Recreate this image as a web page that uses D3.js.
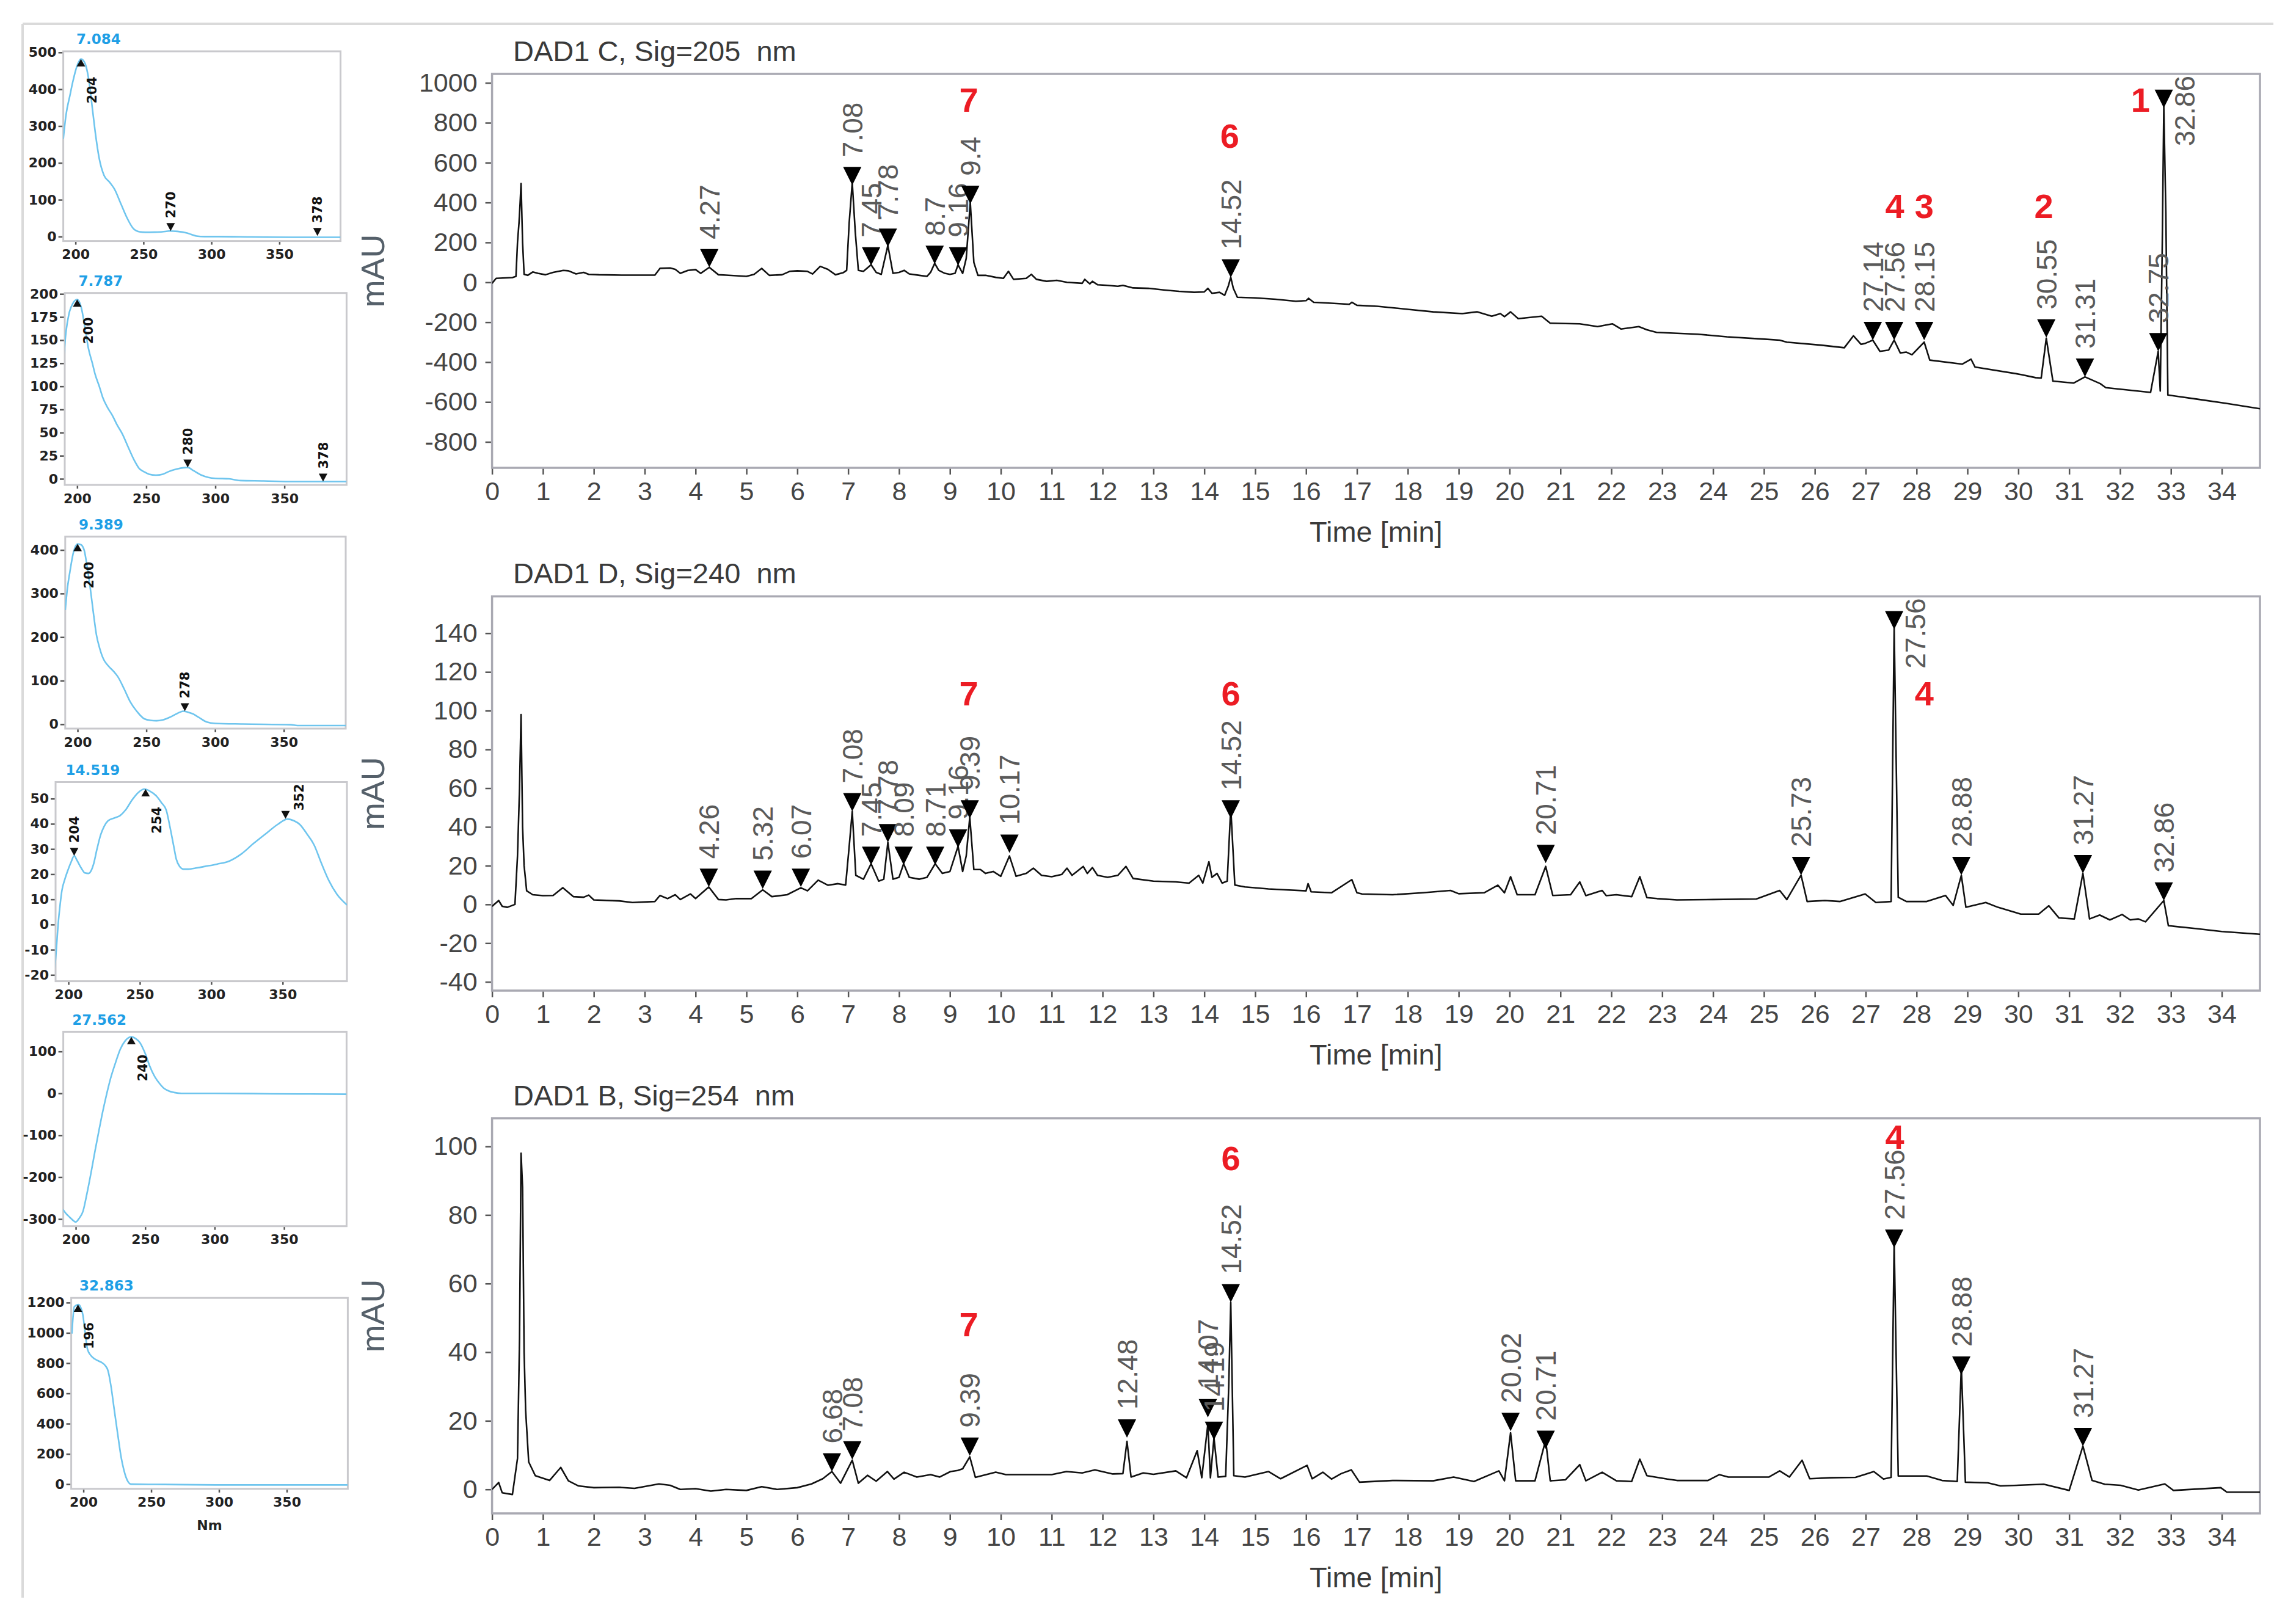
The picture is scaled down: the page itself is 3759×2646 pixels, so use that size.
<!DOCTYPE html>
<html>
<head>
<meta charset="utf-8">
<script src="https://cdn.jsdelivr.net/npm/d3@7"></script>
<style>
body { margin: 0; background: #fff; }
svg { display: block; }
</style>
</head>
<body>
<svg id="fig" width="3759" height="2646"></svg>
<script>
// ---- chromatogram traces [time min, mAU] ----
const trace205 = [[0,-5],[0.08,20],[0.4,24],[0.47,30],[0.5,200],[0.53,300],[0.55,390],[0.57,495],[0.6,200],[0.63,40],[0.7,35],[0.8,52],[0.9,45],[1.05,38],[1.2,50],[1.4,60],[1.5,58],[1.65,42],[1.8,50],[1.9,40],[2.1,38],[2.6,36],[3.2,36],[3.3,70],[3.5,72],[3.6,65],[3.7,45],[3.85,60],[4.0,64],[4.1,45],[4.27,75],[4.45,38],[4.6,36],[5.0,30],[5.15,40],[5.3,70],[5.45,35],[5.7,38],[5.85,55],[6.0,58],[6.2,55],[6.3,42],[6.45,80],[6.6,65],[6.75,38],[6.9,48],[6.97,60],[7.02,300],[7.08,500],[7.14,250],[7.2,60],[7.3,55],[7.45,88],[7.55,50],[7.65,40],[7.78,185],[7.88,45],[8.0,50],[8.1,60],[8.2,42],[8.4,35],[8.55,30],[8.62,50],[8.7,95],[8.78,60],[8.9,45],[9.0,40],[9.1,45],[9.16,88],[9.25,45],[9.32,120],[9.4,400],[9.47,100],[9.55,35],[9.7,35],[9.9,25],[10.05,20],[10.15,55],[10.25,15],[10.5,20],[10.6,40],[10.7,15],[10.9,5],[11.1,10],[11.3,0],[11.6,-5],[11.65,15],[11.75,-8],[11.8,5],[11.9,-12],[12.1,-15],[12.3,-20],[12.4,-15],[12.6,-28],[12.9,-30],[13.2,-38],[13.5,-45],[13.8,-50],[14.0,-48],[14.07,-30],[14.15,-55],[14.3,-50],[14.4,-65],[14.47,-20],[14.52,25],[14.57,-30],[14.65,-75],[15.0,-78],[15.4,-85],[15.8,-95],[16.0,-92],[16.05,-80],[16.15,-100],[16.5,-105],[16.85,-110],[16.9,-100],[17.0,-115],[17.4,-120],[18.03,-136],[18.5,-148],[19.07,-157],[19.36,-148],[19.65,-170],[19.82,-157],[19.9,-172],[20.02,-148],[20.17,-182],[20.63,-170],[20.8,-205],[21.38,-208],[21.73,-222],[22.02,-208],[22.19,-234],[22.54,-222],[22.7,-238],[22.89,-251],[23.7,-260],[24.27,-273],[25.02,-285],[25.31,-290],[25.45,-300],[26.12,-315],[26.58,-328],[26.76,-268],[26.91,-311],[27.0,-305],[27.14,-290],[27.28,-346],[27.45,-340],[27.56,-290],[27.68,-354],[27.8,-350],[27.91,-363],[28.15,-300],[28.26,-390],[28.9,-410],[29.07,-385],[29.15,-425],[30.05,-462],[30.34,-478],[30.45,-480],[30.55,-280],[30.68,-495],[31.09,-505],[31.31,-474],[31.61,-508],[31.72,-528],[32.6,-552],[32.75,-346],[32.79,-545],[32.83,200],[32.86,880],[32.9,350],[32.94,-565],[33.52,-586],[34.09,-607],[34.75,-634]];

const trace240 = [[0,-1],[0.13,2],[0.2,-1],[0.3,-1.5],[0.45,0],[0.5,25],[0.54,60],[0.57,98],[0.6,40],[0.63,20],[0.68,7],[0.8,5],[1.0,4.5],[1.2,4.6],[1.39,8.6],[1.6,4],[1.8,3.7],[1.9,4.8],[2.0,2.3],[2.5,1.8],[2.76,1],[3.2,1.5],[3.3,4.6],[3.45,3],[3.6,5],[3.7,2.5],[3.9,5.4],[4.0,3],[4.26,9],[4.45,2.5],[4.6,2.3],[4.8,3],[5.1,3],[5.32,7.5],[5.5,4],[5.8,5],[6.07,8.6],[6.2,7],[6.41,12.5],[6.6,9.9],[6.8,10.7],[6.95,10],[7.02,30],[7.08,48],[7.15,15],[7.3,13],[7.45,21],[7.6,12],[7.7,13],[7.78,32],[7.88,13],[8.0,14],[8.09,21],[8.2,14],[8.4,13],[8.55,14],[8.71,21],[8.85,16],[9.0,17],[9.16,30],[9.25,17],[9.32,25],[9.39,45],[9.47,18],[9.6,18],[9.7,16],[9.85,17],[10.0,14.5],[10.17,25],[10.3,14.5],[10.5,16],[10.64,18.7],[10.8,15],[11.0,14.3],[11.2,15.5],[11.3,18.7],[11.4,15],[11.62,19.6],[11.7,16],[11.8,19],[11.9,15],[12.1,14],[12.3,15],[12.46,19.6],[12.6,13.4],[13.0,12],[13.44,11.6],[13.7,11],[13.89,15],[13.97,11],[14.09,22],[14.15,14],[14.25,16],[14.35,11],[14.45,12],[14.52,50],[14.6,10],[14.8,9],[15.26,8],[15.6,7.5],[16.0,7],[16.04,10.7],[16.1,6.5],[16.5,6],[16.9,12.8],[17.0,6],[17.1,5.4],[17.7,5],[18.3,6],[18.84,7.2],[19.0,5.5],[19.5,6],[19.77,9.9],[19.9,6],[20.02,14.3],[20.15,5],[20.5,5],[20.71,19.6],[20.85,4.6],[21.2,5],[21.38,11.6],[21.5,4.5],[21.82,7.2],[21.9,4.5],[22.1,5],[22.4,4],[22.56,14.3],[22.7,3.5],[22.9,3],[23.29,2.3],[24.0,2.5],[24.85,2.8],[25.31,7.2],[25.45,2.5],[25.73,15.1],[25.85,1.5],[26.2,2],[26.5,1.5],[26.99,5.4],[27.2,1],[27.5,1.5],[27.56,143],[27.64,3.7],[27.8,1.5],[28.2,1.5],[28.57,4.6],[28.72,-0.5],[28.88,15],[28.97,-1.5],[29.36,1],[29.6,-1.5],[30.05,-5],[30.4,-5],[30.6,-0.7],[30.8,-7],[31.1,-7.5],[31.27,16],[31.4,-7.5],[31.6,-5.5],[31.8,-8],[32.04,-5.2],[32.2,-8],[32.36,-7.5],[32.5,-9],[32.86,2],[32.95,-11],[33.5,-12.5],[34.0,-14],[34.75,-15.4]];

const trace254 = [[0,0],[0.13,2],[0.2,-1],[0.4,-1.5],[0.5,9],[0.54,44],[0.57,98],[0.6,88],[0.63,40],[0.66,23],[0.72,8],[0.85,4],[1.13,2.6],[1.35,6.4],[1.5,2.5],[1.7,1],[2.0,0.5],[2.5,0.6],[2.8,0.3],[3.28,1.6],[3.5,1.2],[3.7,0],[4.0,0.2],[4.3,-0.5],[4.6,0],[5.0,-0.3],[5.3,0.8],[5.6,0],[6.0,0.5],[6.28,1.6],[6.5,3.1],[6.68,5.2],[6.85,1.8],[7.08,8.5],[7.2,1.8],[7.38,4.1],[7.55,2.4],[7.77,5.2],[7.9,3],[8.1,5],[8.35,3.6],[8.62,4.3],[8.8,3.6],[9.01,5.2],[9.15,5.5],[9.25,6],[9.39,9.5],[9.5,3.5],[9.9,5],[10.1,4.3],[10.5,4.3],[11.0,4.3],[11.29,5.2],[11.6,4.8],[11.85,5.7],[12.2,4.5],[12.4,4.6],[12.48,14],[12.56,3.6],[12.8,4.8],[13.0,4.4],[13.44,5.4],[13.65,3.4],[13.86,11.3],[13.95,3.4],[14.07,19],[14.12,3.4],[14.19,15],[14.27,3.6],[14.42,3.8],[14.48,30],[14.52,54.5],[14.58,4],[14.8,3.6],[15.26,5.2],[15.5,3.1],[16.02,7],[16.12,3.1],[16.33,5],[16.5,3],[16.69,4.6],[16.89,5.7],[17.05,2.1],[17.7,2.6],[18.5,2.5],[18.9,3.6],[19.3,2.3],[19.79,5.4],[19.9,2.5],[20.02,16.5],[20.12,2.5],[20.5,2.5],[20.71,14.4],[20.8,2.5],[21.1,2.8],[21.38,7.2],[21.5,2.5],[21.82,5],[22.1,2.5],[22.4,2.3],[22.56,8.8],[22.7,4],[22.9,3.5],[23.1,3],[23.29,2.6],[23.9,2.6],[24.12,4.3],[24.3,3.6],[25.1,3.6],[25.31,5.4],[25.5,3.6],[25.75,8.5],[25.9,3.1],[26.3,3.4],[26.8,3.5],[27.16,5.2],[27.35,3],[27.5,3.5],[27.56,72],[27.64,3.9],[28.2,3.9],[28.5,2.6],[28.8,2.3],[28.88,36],[28.96,2.1],[29.4,1.9],[29.65,1],[30.5,1.5],[31.0,-0.3],[31.27,12.6],[31.45,2.6],[31.7,1.5],[32.01,1.2],[32.36,-0.2],[32.88,1.6],[33.05,-0.3],[33.98,0.5],[34.1,-0.8],[34.75,-0.8]];

// ---- labelled peaks [retention time, marker tip mAU] ----
const peaks205 = [[4.27,75],[7.08,487],[7.45,84],[7.78,178],[8.7,92],[9.16,84],[9.4,393],[14.52,24],[27.14,-290],[27.56,-290],[28.15,-290],[30.55,-277],[31.31,-474],[32.75,-346],[32.86,874]];
const peaks240 = [[4.26,9],[5.32,8],[6.07,9],[7.08,48],[7.45,20.4],[7.78,32],[8.09,20.4],[8.71,20.4],[9.16,29.3],[9.39,44.3],[10.17,26.6],[14.52,44.3],[20.71,21.3],[25.73,15.1],[27.56,142],[28.88,15.1],[31.27,16],[32.86,1.9]];
const peaks254 = [[6.68,5.2],[7.08,8.7],[9.39,9.8],[12.48,15.1],[14.07,21],[14.19,14.4],[14.52,54.5],[20.02,17],[20.71,11.8],[27.56,70.4],[28.88,33.4],[31.27,12.6]];

// ---- red compound numbers [label, time, mAU] ----
const compounds205 = [['7',9.37,917],['6',14.5,736],['4',27.57,385],['3',28.15,385],['2',30.5,385],['1',32.4,917]];
const compounds240 = [['7',9.37,109],['6',14.52,109],['4',28.15,109]];
const compounds254 = [['7',9.37,48.3],['6',14.52,96.6],['4',27.57,102.8]];

// ---- axis ticks ----
const timeTicks = d3.range(0, 35);
const yTicks205 = [-800,-600,-400,-200,0,200,400,600,800,1000];
const yTicks240 = [-40,-20,0,20,40,60,80,100,120,140];
const yTicks254 = [0,20,40,60,80,100];

// ---- UV spectra [nm, mAU] ----
const spec7084 = [[191,265],[193,330],[196,385],[198,420],[201,462],[204,482],[207,470],[210,420],[212.5,345],[215,270],[217.5,211],[221,166],[225,148],[228.5,130],[233.5,88],[238,50],[242.5,22],[247,13],[251.5,11.6],[258,12],[264,13],[269,15],[275,14],[281.5,10],[285,6],[289,1.5],[295,0],[305,0],[330,-1],[360,-2],[395,-2]];
const spec7787 = [[190,127],[192,160],[194,178],[197,190],[200,194],[203,185],[206,160],[208,142],[211,125],[213,113],[216,100],[218.5,88],[222,77],[225.5,68.5],[229,58],[232.6,48.8],[237,34],[241.3,20],[245,11],[248.3,7.7],[252,5],[257,4],[262,5],[266,7.7],[272,10.5],[277,12],[280,12.3],[284,9],[290,4],[295,1.5],[300,0.5],[310,0],[318,-1.9],[335,-2.3],[356,-3],[395,-3]];
const spec9389 = [[191,262],[192.5,310],[194.4,350],[197,395],[200,414],[202.5,412],[204.9,398],[207,360],[209.3,310],[211.5,255],[213.7,205],[216,175],[218.9,149],[222,135],[226,122],[229.5,108],[234,80],[238.2,52],[243,30],[248.8,12],[253,9],[257.5,8],[262,10],[267,16],[272,24],[276.8,30],[280,28],[283.8,24],[288,16],[294,5],[300,2],[320,0.5],[355,-1],[360,-3],[395,-3]];
const spec14519 = [[190.3,-18.7],[191.5,-10],[192.9,0.8],[194,7],[195.4,13.4],[197.5,18],[199.7,21.7],[202,25],[204,27.3],[206,25.5],[209,22.4],[211.5,20.5],[214.1,20.3],[216,21.5],[217.5,23.8],[220,30],[222.6,35.7],[225,39],[227.7,41.2],[232,42.3],[236.2,43.3],[240,45.5],[244.7,49.6],[249,52.5],[253.2,53.8],[257,53],[261.7,51],[265,48.5],[268.5,45.4],[271,39],[273.6,31.5],[275.5,26],[277.8,23.1],[280.5,22],[283.8,22],[290,22.5],[295.7,23.1],[304,24],[312.6,25.2],[321,28],[329.6,32.2],[338,36],[346.6,39.8],[353.4,41.9],[358,41.2],[361.9,39.8],[367,36],[372.1,31.5],[377,24.5],[382.3,17.5],[388,12],[395,7.8]];
const spec27562 = [[190.7,-277],[193,-287],[195.6,-295.5],[198,-303],[200,-307],[202.5,-298],[205.2,-281.5],[208,-240],[211.3,-184],[214,-135],[216.5,-91.7],[219,-50],[221.8,-8],[225,35],[228.8,75],[232,105],[235.7,126],[238,133],[240.1,135],[243,131],[246.2,121],[250,95],[253.2,65.7],[256.5,42],[260.2,24],[263.5,12],[267.1,5.5],[271,2],[276,0],[300,0],[340,-1],[395,-2]];
const spec32863 = [[191.5,995],[192.3,1100],[193.3,1174],[196.3,1187],[199.5,1123],[201,1020],[203,892],[205.5,850],[208.3,828],[211,815],[213.7,803],[216,785],[218.1,751],[220.3,650],[222.5,508],[225.3,330],[227.9,174],[229.8,95],[231.4,46],[233,15],[235,0],[260,-2],[300,-5],[395,-5]];

// spectral maxima (up markers) and minima/shoulders (down markers) [nm, mAU]
const up7084 = [[204,482]], down7084 = [[270,15],[378,2]];
const up7787 = [[200,194]], down7787 = [[280,12.3],[378,-3]];
const up9389 = [[200,414]], down9389 = [[278,30]];
const up14519 = [[254,53.8]], down14519 = [[204,27.3],[352,42]];
const up27562 = [[240,135]], down27562 = [];
const up32863 = [[196,1187]], down32863 = [];

const nmTicks = [200,250,300,350];

// ---------------------------------------------------------------
const FONT = "'Liberation Sans', Arial, sans-serif";
const SFONT = "'DejaVu Sans', Verdana, sans-serif";
const svg = d3.select('#fig');
const defs = svg.append('defs');

// outer frame lines
svg.append('line').attr('x1', 37).attr('x2', 3722).attr('y1', 39).attr('y2', 39)
  .attr('stroke', '#dadada').attr('stroke-width', 4);
svg.append('line').attr('x1', 37).attr('x2', 37).attr('y1', 39).attr('y2', 2616)
  .attr('stroke', '#dadada').attr('stroke-width', 4);

// ---- chromatograms ----
const CH_L = 805.6, CH_R = 3700, TIME_MAX = 34.75;

const chromPanels = [
  {title: 'DAD1 C, Sig=205  nm', trace: trace205, peaks: peaks205, comps: compounds205, yTicks: yTicks205, domain: [-930, 1045], top: 121, bottom: 766},
  {title: 'DAD1 D, Sig=240  nm', trace: trace240, peaks: peaks240, comps: compounds240, yTicks: yTicks240, domain: [-44.5, 159], top: 976.5, bottom: 1622},
  {title: 'DAD1 B, Sig=254  nm', trace: trace254, peaks: peaks254, comps: compounds254, yTicks: yTicks254, domain: [-7, 108.2], top: 1831, bottom: 2478}
];

function styleAxis(sel, size, family, weight, color) {
  sel.select('.domain').remove();
  sel.selectAll('.tick line').attr('stroke', '#555').attr('stroke-width', 2.5);
  sel.selectAll('.tick text').attr('font-size', size).attr('font-family', family)
    .attr('font-weight', weight).attr('fill', color);
}

chromPanels.forEach((p, i) => {
  const x = d3.scaleLinear().domain([0, TIME_MAX]).range([CH_L, CH_R]);
  const y = d3.scaleLinear().domain(p.domain).range([p.bottom, p.top]);
  const g = svg.append('g');

  defs.append('clipPath').attr('id', 'cclip' + i).append('rect')
    .attr('x', CH_L).attr('y', p.top).attr('width', CH_R - CH_L).attr('height', p.bottom - p.top);

  g.append('g').attr('transform', `translate(0,${p.bottom})`)
    .call(d3.axisBottom(x).tickValues(timeTicks).tickSize(11).tickPadding(11).tickFormat(d => String(d)))
    .call(s => styleAxis(s, 43, FONT, 'normal', '#454545'));
  g.append('g').attr('transform', `translate(${CH_L},0)`)
    .call(d3.axisLeft(y).tickValues(p.yTicks).tickSize(11).tickPadding(13).tickFormat(d => String(d)))
    .call(s => styleAxis(s, 43, FONT, 'normal', '#454545'));

  g.append('rect').attr('x', CH_L).attr('y', p.top).attr('width', CH_R - CH_L).attr('height', p.bottom - p.top)
    .attr('fill', 'none').attr('stroke', '#a9a9b2').attr('stroke-width', 3.5);

  const line = d3.line().x(d => x(d[0])).y(d => y(d[1]));
  g.append('path').datum(p.trace).attr('d', line).attr('fill', 'none')
    .attr('stroke', '#111').attr('stroke-width', 2.6).attr('stroke-linejoin', 'round')
    .attr('clip-path', `url(#cclip${i})`);

  p.peaks.forEach(([t, v]) => {
    const px = x(t), py = y(v);
    g.append('path').attr('d', `M${px - 15},${py - 30}L${px + 15},${py - 30}L${px},${py}Z`).attr('fill', '#000');
    const lab = g.append('text').text(String(t))
      .attr('font-family', FONT).attr('font-size', 46).attr('fill', '#5a5a5a')
      .attr('dy', '0.36em').attr('text-anchor', 'start')
      .attr('transform', `translate(${px},${py - 46}) rotate(-90)`);
    const len = lab.node().getComputedTextLength();
    if (py - 46 - len < p.top + 2) {
      lab.attr('text-anchor', 'end').attr('transform', `translate(${px + 34},${p.top + 3}) rotate(-90)`);
    }
  });

  p.comps.forEach(([s, t, v]) => {
    g.append('text').text(s).attr('x', x(t)).attr('y', y(v)).attr('dy', '0.36em')
      .attr('text-anchor', 'middle').attr('font-family', FONT).attr('font-weight', 'bold')
      .attr('font-size', 56).attr('fill', '#ec1c24');
  });

  g.append('text').text(p.title).attr('x', 840).attr('y', p.top - 38).attr('dy', '0.36em')
    .attr('font-family', FONT).attr('font-size', 47).attr('fill', '#3a3a3a').style('white-space', 'pre');
  g.append('text').text('mAU').attr('text-anchor', 'middle').attr('dy', '0.36em')
    .attr('transform', `translate(610,${(p.top + p.bottom) / 2}) rotate(-90)`)
    .attr('font-family', FONT).attr('font-size', 54).attr('fill', '#55606a');
  g.append('text').text('Time [min]').attr('x', (CH_L + CH_R) / 2).attr('y', p.bottom + 104).attr('dy', '0.36em')
    .attr('text-anchor', 'middle').attr('font-family', FONT).attr('font-size', 47).attr('fill', '#3a3a3a');
});

// ---- UV spectra ----
const specPanels = [
  {title: '7.084', data: spec7084, up: up7084, down: down7084, yTicks: [0,100,200,300,400,500], domain: [-12, 503], l: 103.6, r: 557.5, t: 84, b: 394.6},
  {title: '7.787', data: spec7787, up: up7787, down: down7787, yTicks: [0,25,50,75,100,125,150,175,200], domain: [-6.6, 201], l: 106, r: 567.4, t: 479.7, b: 794},
  {title: '9.389', data: spec9389, up: up9389, down: down9389, yTicks: [0,100,200,300,400], domain: [-10, 430.6], l: 106.8, r: 566, t: 878.7, b: 1193},
  {title: '14.519', data: spec14519, up: up14519, down: down14519, yTicks: [-20,-10,0,10,20,30,40,50], domain: [-22.5, 56.6], l: 91, r: 568, t: 1280.5, b: 1606.6},
  {title: '27.562', data: spec27562, up: up27562, down: down27562, yTicks: [-300,-200,-100,0,100], domain: [-317, 147], l: 103.6, r: 567.4, t: 1689.4, b: 2007.7},
  {title: '32.863', data: spec32863, up: up32863, down: down32863, yTicks: [0,200,400,600,800,1000,1200], domain: [-31, 1231], l: 116.6, r: 569.4, t: 2125.2, b: 2437.8}
];

specPanels.forEach((p, i) => {
  const x = d3.scaleLinear().domain([191, 395]).range([p.l, p.r]);
  const y = d3.scaleLinear().domain(p.domain).range([p.b, p.t]);
  const g = svg.append('g');

  defs.append('clipPath').attr('id', 'sclip' + i).append('rect')
    .attr('x', p.l).attr('y', p.t).attr('width', p.r - p.l).attr('height', p.b - p.t);

  g.append('g').attr('transform', `translate(0,${p.b})`)
    .call(d3.axisBottom(x).tickValues(nmTicks).tickSize(6).tickPadding(8).tickFormat(d => String(d)))
    .call(s => styleAxis(s, 22, SFONT, 'bold', '#222'));
  g.append('g').attr('transform', `translate(${p.l},0)`)
    .call(d3.axisLeft(y).tickValues(p.yTicks).tickSize(8).tickPadding(3).tickFormat(d => String(d)))
    .call(s => styleAxis(s, 22, SFONT, 'bold', '#222'));

  g.append('rect').attr('x', p.l).attr('y', p.t).attr('width', p.r - p.l).attr('height', p.b - p.t)
    .attr('fill', 'none').attr('stroke', '#c9c9cd').attr('stroke-width', 3);

  const line = d3.line().curve(d3.curveMonotoneX).x(d => x(d[0])).y(d => y(d[1]));
  g.append('path').datum(p.data).attr('d', line).attr('fill', 'none')
    .attr('stroke', '#6fc5ee').attr('stroke-width', 2.6).attr('clip-path', `url(#sclip${i})`);

  p.up.forEach(([nm, v]) => {
    const px = x(nm), py = y(v);
    g.append('path').attr('d', `M${px},${py}L${px - 7},${py + 12}L${px + 7},${py + 12}Z`).attr('fill', '#111');
    g.append('text').text(String(nm)).attr('text-anchor', 'end').attr('dy', '0.36em')
      .attr('transform', `translate(${px + 18},${py + 29}) rotate(-90)`)
      .attr('font-family', SFONT).attr('font-weight', 'bold').attr('font-size', 21).attr('fill', '#111');
  });
  p.down.forEach(([nm, v]) => {
    const px = x(nm), py = y(v);
    g.append('path').attr('d', `M${px},${py}L${px - 7},${py - 13}L${px + 7},${py - 13}Z`).attr('fill', '#111');
    const lab = g.append('text').text(String(nm)).attr('text-anchor', 'start').attr('dy', '0.36em')
      .attr('transform', `translate(${px},${py - 21}) rotate(-90)`)
      .attr('font-family', SFONT).attr('font-weight', 'bold').attr('font-size', 21).attr('fill', '#111');
    const len = lab.node().getComputedTextLength();
    if (py - 21 - len < p.t) {
      lab.attr('text-anchor', 'end').attr('transform', `translate(${px + 22},${p.t + 3}) rotate(-90)`);
    }
  });

  g.append('text').text(p.title).attr('x', x(217)).attr('y', p.t - 20).attr('dy', '0.36em')
    .attr('text-anchor', 'middle').attr('font-family', SFONT).attr('font-weight', 'bold')
    .attr('font-size', 23).attr('fill', '#1f9fe6');

  if (i === specPanels.length - 1) {
    g.append('text').text('Nm').attr('x', (p.l + p.r) / 2).attr('y', p.b + 59).attr('dy', '0.36em')
      .attr('text-anchor', 'middle').attr('font-family', SFONT).attr('font-weight', 'bold')
      .attr('font-size', 22).attr('fill', '#222');
  }
});
</script>
</body>
</html>
